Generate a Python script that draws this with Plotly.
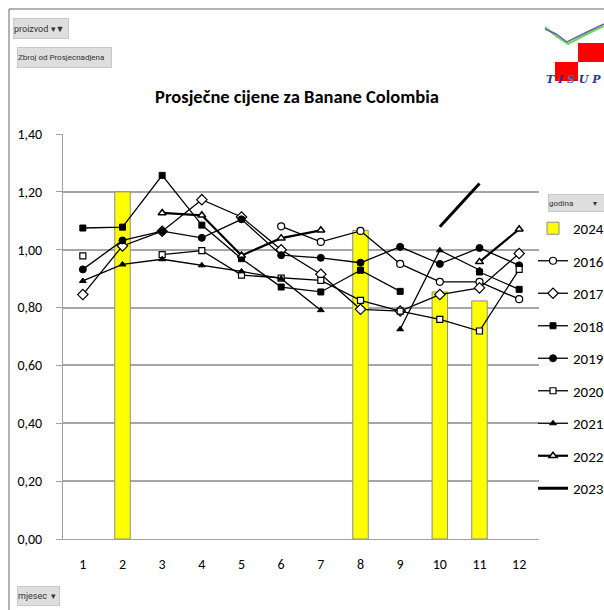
import plotly.graph_objects as go

months = list(range(1, 13))
tick_labels = [str(m) for m in months]

y2024 = [None, 1.20, None, None, None, None, None, 1.067, None, 0.854, 0.823, None]
y2016 = [None, None, None, None, None, 1.081, 1.027, 1.065, 0.951, 0.889, 0.889, 0.829]
y2017 = [0.845, 1.013, 1.064, 1.173, 1.113, 1.00, 0.915, 0.794, 0.788, 0.845, 0.868, 0.987]
y2018 = [1.075, 1.078, 1.257, 1.085, 0.969, 0.871, 0.854, 0.929, 0.856, None, 0.923, 0.863]
y2019 = [0.932, 1.032, 1.064, 1.041, 1.105, 0.981, 0.972, 0.955, 1.010, 0.951, 1.006, 0.946]
y2020 = [0.979, None, 0.983, 0.997, 0.912, 0.902, 0.894, 0.825, 0.788, 0.759, 0.719, 0.932]
y2021 = [0.892, 0.949, 0.967, 0.946, 0.925, 0.900, 0.791, None, 0.725, 0.998, 0.930, None]
y2022 = [None, None, 1.127, 1.119, 0.980, 1.040, 1.067, None, None, None, 0.958, 1.071]
y2023 = [None, None, None, None, None, None, None, None, None, 1.079, 1.229, None]

W, H = 604, 610
# plot area in window pixels: x 63..539, y 134..539
ML = 63
MR = W - 539
MT = 134
MB = H - 539
PW = W - ML - MR
PH = H - MT - MB


def px(x):
    return (x - ML) / PW


def py(y):
    return (H - MB - y) / PH


def cx(x):
    return x / W


def cy(y):
    return 1 - y / H


FONT = "Carlito, Lato, sans-serif"

fig = go.Figure()
fig.add_trace(go.Bar(x=months, y=y2024, name="2024", width=0.39,
                     marker=dict(color="#ffff00", line=dict(color="#8c8c8c", width=1)),
                     legendgroup="g0"))

series = [
    ("2016", y2016, dict(symbol="circle", size=7, color="white", line=dict(color="black", width=1.2)), 1.3),
    ("2017", y2017, dict(symbol="diamond", size=8, color="white", line=dict(color="black", width=1.2)), 1.3),
    ("2018", y2018, dict(symbol="square", size=6, color="black", line=dict(color="black", width=1)), 1.3),
    ("2019", y2019, dict(symbol="circle", size=7, color="black", line=dict(color="black", width=1)), 1.3),
    ("2020", y2020, dict(symbol="square", size=6, color="white", line=dict(color="black", width=1.2)), 1.3),
    ("2021", y2021, dict(symbol="triangle-up", size=6, color="black", line=dict(color="black", width=1)), 1.3),
    ("2022", y2022, dict(symbol="triangle-up", size=7, color="white", line=dict(color="black", width=1.5)), 2.2),
]
for i, (name, ys, mk, lw) in enumerate(series):
    fig.add_trace(go.Scatter(x=months, y=ys, name=name, mode="lines+markers",
                             line=dict(color="black", width=lw), marker=mk,
                             connectgaps=False, legendgroup="g%d" % (i + 1)))
fig.add_trace(go.Scatter(x=months, y=y2023, name="2023", mode="lines",
                         line=dict(color="black", width=3), connectgaps=False,
                         legendgroup="g9"))


def pline(pts):
    return "M " + " L ".join("%f %f" % (px(a), py(b)) for a, b in pts)


shapes = [
    dict(type="line", xref="paper", yref="paper", x0=px(9), y0=py(612), x1=px(9), y1=py(9),
         line=dict(color="#9a9a9a", width=1.5)),
    dict(type="line", xref="paper", yref="paper", x0=px(9), y0=py(9), x1=px(606), y1=py(9),
         line=dict(color="#9a9a9a", width=1.5)),
    # logo
    dict(type="rect", xref="paper", yref="paper", x0=px(578), y0=py(62), x1=px(604), y1=py(43),
         fillcolor="#ff0000", line=dict(width=0)),
    dict(type="rect", xref="paper", yref="paper", x0=px(555), y0=py(81), x1=px(578), y1=py(62),
         fillcolor="#ff0000", line=dict(width=0)),
    dict(type="path", xref="paper", yref="paper",
         path=pline([(545, 27), (556, 36), (568, 44), (585, 35), (604, 26)]),
         line=dict(color="#66dd55", width=2)),
    dict(type="path", xref="paper", yref="paper",
         path=pline([(545, 29), (556, 34), (567, 42), (585, 33), (604, 24)]),
         line=dict(color="#6a5fae", width=1.5)),
]


def button(text, x0, y0, x1, y1, size=9):
    return dict(xref="paper", yref="paper", x=px(x0), y=py(y0), xanchor="left", yanchor="top",
                width=x1 - x0, height=y1 - y0, align="left", valign="middle",
                text=text, showarrow=False, bgcolor="#dedede", bordercolor="#c8c8c8",
                borderwidth=1, borderpad=0,
                font=dict(family="Liberation Sans Narrow, Roboto, sans-serif", size=size, color="#333333"))


annotations = [
    button("proizvod ▾▼", 13, 18, 67, 37),
    button("Zbroj od Prosjecnadjena", 17, 47, 110, 66, size=8),
    button("mjesec  ▾", 17, 586, 58, 604),
    button("godina          ▾", 548, 194, 606, 210, size=8),
    dict(xref="paper", yref="paper", x=px(544), y=py(79), xanchor="left", yanchor="middle",
         text="<i><b>T I <span style='color:#4b6fc4'>S</span> U P</b></i>", showarrow=False,
         font=dict(family="DejaVu Serif, serif", size=11, color="#2b3a8c")),
]

fig.update_layout(
    width=W, height=H,
    margin=dict(l=ML, r=MR, t=MT, b=MB, pad=0, autoexpand=False),
    paper_bgcolor="white", plot_bgcolor="white",
    separators=",.",
    title=dict(text="<b>Prosječne cijene za Banane Colombia</b>", x=cx(297), xanchor="center",
               y=cy(97), yanchor="middle", yref="container",
               font=dict(family=FONT, size=18.5, color="black")),
    barmode="overlay",
    showlegend=True,
    legend=dict(xref="container", yref="container", x=cx(533), y=cy(212),
                xanchor="left", yanchor="top",
                traceorder="grouped", tracegroupgap=10,
                font=dict(family=FONT, size=15, color="black"),
                bgcolor="rgba(0,0,0,0)", itemwidth=30),
    xaxis=dict(range=[0.5, 12.5], tickvals=months, ticktext=tick_labels, showgrid=False,
               showline=True, linecolor="#a0a0a0", linewidth=1, ticks="",
               tickfont=dict(family=FONT, size=14, color="black"), ticklabelstandoff=12,
               zeroline=False),
    yaxis=dict(range=[0, 1.4], dtick=0.2, tickformat=".2f", showgrid=True, gridcolor="#a6a6a6",
               gridwidth=1.5, showline=True, linecolor="#a0a0a0", linewidth=1,
               ticks="outside", ticklen=6, tickcolor="#a0a0a0",
               tickfont=dict(family=FONT, size=14, color="black"), ticklabelstandoff=11,
               zeroline=False),
    shapes=shapes,
    annotations=annotations,
)

fig.write_html("out.html", config={"displayModeBar": False},
               post_script="document.body.style.margin='0px';document.body.style.overflow='hidden';")
